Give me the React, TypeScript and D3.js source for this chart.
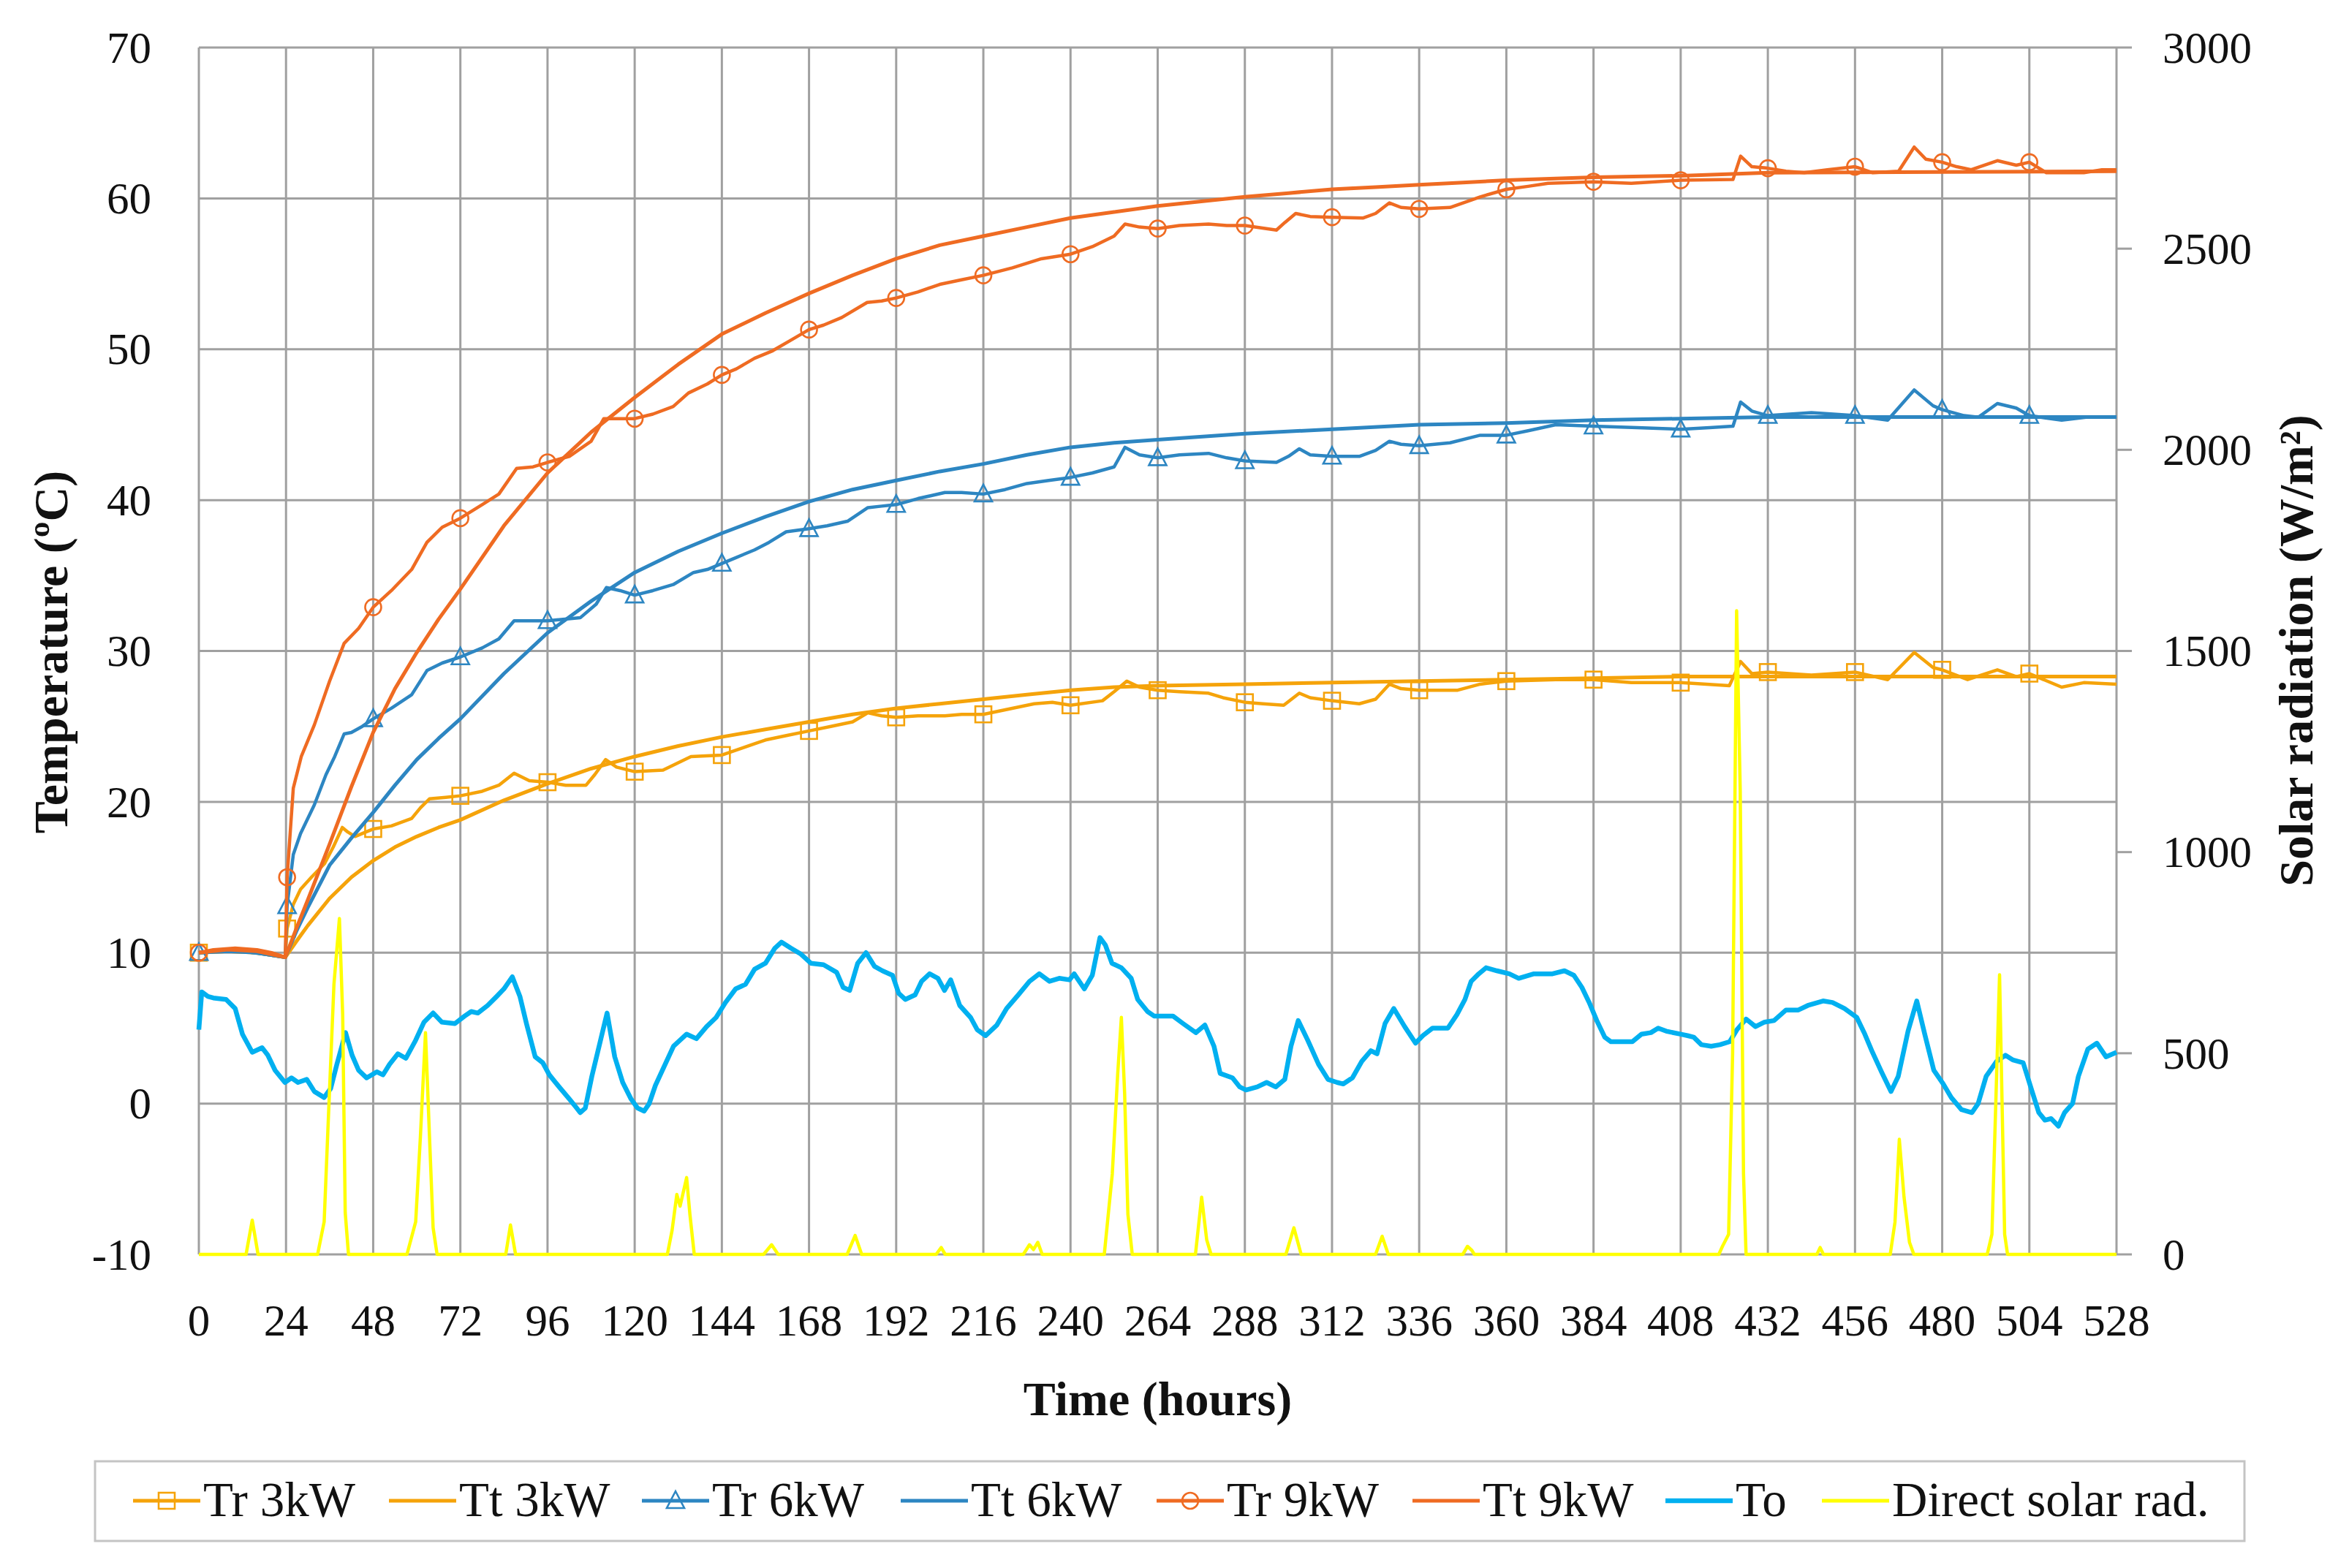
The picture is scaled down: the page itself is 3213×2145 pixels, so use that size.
import * as React from "react";
import * as d3 from "d3";

type Pt = [number, number];

// time axis / value axis ticks
const hourTicks = [0, 24, 48, 72, 96, 120, 144, 168, 192, 216, 240, 264, 288, 312, 336, 360, 384, 408, 432, 456, 480, 504, 528];
const tempTicks = [-10, 0, 10, 20, 30, 40, 50, 60, 70];
const solarTicks = [0, 500, 1000, 1500, 2000, 2500, 3000];

// [hour, ºC]
const tr3kW: Pt[] = [
  [0, 10.0], [6, 10.1], [12, 10.1], [18, 9.9], [23.8, 9.7], [24.3, 11.6], [26, 13.2], [28, 14.2], [31, 15.0], [34.6, 15.9],
  [37, 17.0], [39.5, 18.3], [41, 18.0], [43, 17.7], [46, 18.0], [48, 18.2], [53, 18.4], [58.6, 18.9], [61, 19.6], [63.5, 20.2],
  [68, 20.3], [72, 20.4], [78, 20.7], [82.6, 21.1], [86.8, 21.9], [91, 21.4], [96, 21.3], [101, 21.1], [106.6, 21.1], [109, 21.8],
  [112, 22.8], [115, 22.3], [120, 22.0], [127.8, 22.1], [135.5, 23.0], [144, 23.1], [150, 23.6], [156, 24.1], [162, 24.4], [168, 24.7],
  [174, 25.0], [180, 25.3], [184.2, 25.9], [188, 25.7], [192, 25.6], [198, 25.7], [205.4, 25.7], [210, 25.8], [216, 25.8], [222, 26.1],
  [230, 26.5], [235, 26.6], [240, 26.4], [248.8, 26.7], [252, 27.3], [255.5, 28.0], [259, 27.6], [264, 27.4], [270, 27.3], [278, 27.2],
  [282, 26.9], [288, 26.6], [293, 26.5], [298.7, 26.4], [303, 27.2], [306, 26.9], [312, 26.7], [319.5, 26.5], [324, 26.8], [327.8, 27.8],
  [331, 27.5], [336, 27.4], [346.6, 27.4], [352.8, 27.8], [360, 28.0], [373.6, 28.1], [384, 28.1], [394.4, 27.9], [408, 27.9], [421.4, 27.7],
  [424.5, 29.3], [427.6, 28.5], [432, 28.6], [444, 28.4], [456, 28.6], [465, 28.1], [472.3, 29.9], [477.5, 28.9], [480, 28.75], [487, 28.1],
  [495.2, 28.75], [500.4, 28.3], [504, 28.5], [512.9, 27.6], [519, 27.9], [528, 27.8],
];

const tt3kW: Pt[] = [
  [0, 10.0], [8, 10.1], [16, 10.0], [23.8, 9.7], [27, 10.8], [30, 11.8], [36, 13.6], [42, 15.0], [48, 16.1], [54, 17.0],
  [60, 17.7], [66, 18.3], [72, 18.8], [84, 20.1], [96, 21.2], [108, 22.2], [120, 23.0], [132, 23.7], [144, 24.3], [156, 24.8],
  [168, 25.3], [180, 25.8], [192, 26.2], [204, 26.5], [216, 26.8], [228, 27.1], [240, 27.4], [252, 27.6], [264, 27.7], [288, 27.8],
  [312, 27.9], [336, 28.0], [360, 28.1], [384, 28.2], [408, 28.3], [528, 28.3],
];

const tr6kW: Pt[] = [
  [0, 10.0], [6, 10.1], [12, 10.1], [18, 9.9], [23.8, 9.7], [24.3, 13.1], [26, 16.5], [28, 17.9], [31.8, 19.8], [35, 21.8],
  [37.4, 23.0], [40, 24.5], [42, 24.6], [45, 25.0], [48, 25.5], [53, 26.2], [58.6, 27.1], [62.8, 28.7], [67, 29.2], [72, 29.6],
  [78, 30.2], [82.6, 30.8], [86.8, 32.0], [91, 32.0], [96, 32.0], [105, 32.2], [109.4, 33.1], [112.2, 34.2], [116, 34.0], [120, 33.7],
  [125, 34.0], [130.6, 34.4], [136.2, 35.2], [140, 35.4], [144, 35.8], [148, 36.2], [153, 36.7], [157, 37.2], [161.7, 37.9], [168, 38.1],
  [173, 38.3], [178.6, 38.6], [184.2, 39.5], [188, 39.6], [192, 39.7], [198, 40.1], [205.4, 40.5], [210, 40.5], [216, 40.4], [222, 40.7],
  [228, 41.1], [234, 41.3], [240, 41.5], [246, 41.8], [252, 42.2], [255, 43.5], [259, 43.0], [264, 42.8], [270, 43.0], [278, 43.1],
  [283, 42.8], [288, 42.6], [296.7, 42.5], [300, 42.9], [303, 43.4], [306, 43.0], [312, 42.9], [319.5, 42.9], [324, 43.3], [327.8, 43.9],
  [331, 43.7], [336, 43.6], [344.5, 43.8], [352.8, 44.3], [360, 44.3], [366, 44.6], [373.6, 45.0], [384, 44.9], [396, 44.8], [408, 44.7],
  [416, 44.8], [422.4, 44.9], [424.5, 46.5], [427.6, 45.9], [432, 45.6], [438, 45.7], [444, 45.8], [450, 45.7], [456, 45.6], [465, 45.3],
  [472.3, 47.3], [477.5, 46.25], [480, 46.0], [486, 45.6], [490, 45.5], [495.2, 46.4], [500.4, 46.1], [504, 45.6], [512.9, 45.3], [520, 45.5],
  [528, 45.5],
];

const tt6kW: Pt[] = [
  [0, 10.0], [8, 10.1], [16, 10.0], [23.8, 9.7], [27, 11.5], [30, 13.0], [36, 15.8], [42, 17.6], [48, 19.3], [54, 21.1],
  [60, 22.8], [66, 24.2], [72, 25.5], [84, 28.5], [96, 31.2], [108, 33.3], [120, 35.2], [132, 36.6], [144, 37.8], [156, 38.9],
  [168, 39.9], [180, 40.7], [192, 41.3], [204, 41.9], [216, 42.4], [228, 43.0], [240, 43.5], [252, 43.8], [264, 44.0], [288, 44.4],
  [312, 44.7], [336, 45.0], [360, 45.1], [384, 45.3], [408, 45.4], [432, 45.5], [528, 45.5],
];

const tr9kW: Pt[] = [
  [0, 10.0], [4, 10.2], [10, 10.3], [16, 10.2], [20, 10.0], [23.8, 9.7], [24.3, 15.0], [26, 20.9], [28.2, 23.0], [31.8, 25.1],
  [36, 28.0], [40, 30.5], [44, 31.5], [48, 32.9], [53, 34.0], [58.6, 35.4], [62.8, 37.2], [67, 38.2], [72, 38.8], [78, 39.7],
  [82.6, 40.4], [87.5, 42.1], [92, 42.2], [96, 42.5], [102, 42.9], [108, 43.9], [111.5, 45.4], [116, 45.4], [120, 45.4], [125, 45.7],
  [130.6, 46.2], [134.8, 47.1], [140, 47.7], [144, 48.3], [148, 48.7], [153, 49.4], [158, 49.9], [163, 50.6], [168, 51.3], [172, 51.6],
  [177, 52.1], [184, 53.1], [188, 53.2], [192, 53.4], [198, 53.8], [204, 54.3], [210, 54.6], [216, 54.9], [224, 55.4], [232, 56.0],
  [240, 56.3], [246, 56.8], [252, 57.5], [255, 58.3], [259, 58.1], [264, 58.0], [270, 58.2], [278, 58.3], [283, 58.2], [288, 58.2],
  [296.7, 57.9], [299, 58.4], [302, 59.0], [306, 58.8], [312, 58.75], [320.6, 58.7], [324, 59.0], [327.8, 59.7], [331, 59.4], [336, 59.3],
  [344.5, 59.4], [352.8, 60.1], [360, 60.6], [366, 60.8], [371.5, 61.0], [384, 61.1], [394.4, 61.0], [408, 61.2], [422.4, 61.25], [424.5, 62.8],
  [427.6, 62.1], [432, 62.0], [437, 61.8], [442, 61.7], [448.4, 61.9], [456, 62.1], [460.9, 61.7], [468, 61.8], [472.3, 63.4], [475.5, 62.6],
  [480, 62.4], [484, 62.1], [488, 61.9], [495.2, 62.5], [500.4, 62.2], [504, 62.4], [508.7, 61.7], [519, 61.7], [524, 61.9], [528, 61.9],
];

const tt9kW: Pt[] = [
  [0, 10.0], [8, 10.2], [16, 10.1], [23.8, 9.7], [27, 11.7], [30, 13.5], [36, 17.2], [42, 21.0], [48, 24.6], [54, 27.5],
  [60, 29.9], [66, 32.1], [72, 34.1], [84, 38.3], [96, 41.8], [108, 44.5], [120, 46.8], [132, 49.0], [144, 51.0], [156, 52.4],
  [168, 53.7], [180, 54.9], [192, 56.0], [204, 56.9], [216, 57.5], [228, 58.1], [240, 58.7], [252, 59.1], [264, 59.5], [276, 59.8],
  [288, 60.1], [300, 60.35], [312, 60.6], [324, 60.75], [336, 60.9], [348, 61.05], [360, 61.2], [372, 61.3], [384, 61.4], [408, 61.5],
  [432, 61.7], [480, 61.75], [528, 61.8],
];

// outdoor temperature [hour, ºC]
const outdoor: Pt[] = [
  [0, 4.9], [0.8, 7.4], [2.5, 7.1], [4, 7.0], [7.5, 6.9], [10, 6.3], [12, 4.6], [14.7, 3.4], [17.4, 3.7], [19, 3.2],
  [21, 2.2], [23.7, 1.4], [25.5, 1.7], [27.3, 1.4], [29.7, 1.6], [31.8, 0.8], [34.5, 0.4], [36.3, 1.0], [38, 2.6], [40.4, 4.7],
  [42.2, 3.2], [44, 2.2], [46.2, 1.7], [49, 2.1], [50.7, 1.9], [52.5, 2.6], [54.8, 3.3], [57, 3.0], [59.7, 4.2], [62, 5.4],
  [64.5, 6.0], [66.9, 5.4], [70.5, 5.3], [73.2, 5.8], [75, 6.1], [76.8, 6.0], [79.5, 6.5], [82, 7.1], [84, 7.6], [86.3, 8.4],
  [88.4, 7.1], [90.2, 5.3], [92.6, 3.1], [94.7, 2.7], [96.5, 1.9], [99.2, 1.1], [102, 0.3], [103.7, -0.2], [105, -0.6], [106.4, -0.3],
  [108.2, 1.8], [110.6, 4.2], [112.4, 6.0], [114.5, 3.1], [116.7, 1.4], [119, 0.3], [120.8, -0.3], [122.6, -0.5], [124, 0.0], [125.7, 1.2],
  [128, 2.4], [130.7, 3.8], [134.3, 4.6], [137, 4.3], [139.8, 5.1], [142.4, 5.7], [145, 6.7], [147.8, 7.6], [150.5, 7.9], [153, 8.9],
  [156, 9.3], [158.6, 10.3], [160.4, 10.7], [163, 10.3], [165.8, 9.9], [168.5, 9.3], [172, 9.2], [175.6, 8.7], [177.4, 7.7], [179.2, 7.5],
  [181.4, 9.3], [183.7, 10.0], [186, 9.1], [188.2, 8.8], [191, 8.5], [192.7, 7.3], [194.5, 6.9], [197.2, 7.2], [199, 8.1], [201.2, 8.6],
  [203.5, 8.3], [205.3, 7.5], [207, 8.2], [209.5, 6.5], [212.5, 5.7], [214.3, 4.9], [216.6, 4.5], [219.7, 5.2], [222.4, 6.3], [225.6, 7.2],
  [228.7, 8.1], [231.4, 8.6], [234.2, 8.1], [236.9, 8.3], [239.7, 8.2], [241, 8.6], [243.8, 7.6], [246, 8.5], [248.1, 11.0], [249.6, 10.5],
  [251.4, 9.3], [254, 9.0], [256.7, 8.3], [258.5, 6.9], [261.2, 6.1], [263, 5.8], [268.2, 5.8], [271, 5.3], [274.5, 4.7], [277, 5.2],
  [279.5, 3.8], [281.2, 2.0], [284.6, 1.7], [286.6, 1.1], [288.3, 0.9], [291.4, 1.1], [294, 1.4], [296.5, 1.1], [299, 1.6], [300.7, 3.8],
  [302.7, 5.5], [305.3, 4.2], [308.3, 2.6], [310.9, 1.6], [313.4, 1.4], [315.1, 1.3], [317.6, 1.7], [320.2, 2.8], [322.7, 3.5], [324.4, 3.3],
  [326.6, 5.3], [329, 6.3], [332, 5.1], [335, 4.0], [337, 4.5], [339.7, 5.0], [343.9, 5.0], [346.4, 5.9], [348.6, 6.9], [350.3, 8.1],
  [352.4, 8.6], [354.4, 9.0], [357.4, 8.8], [360.8, 8.6], [363.4, 8.3], [367.6, 8.6], [372.7, 8.6], [376, 8.8], [378.6, 8.5], [380.8, 7.7],
  [382.8, 6.7], [384.9, 5.5], [387.1, 4.4], [388.8, 4.1], [394.7, 4.1], [397.2, 4.6], [399.8, 4.7], [401.8, 5.0], [404, 4.8], [407.9, 4.6],
  [409.9, 4.5], [411.6, 4.4], [413.7, 3.9], [416.4, 3.8], [418.8, 3.9], [421.5, 4.1], [423.5, 4.9], [426, 5.6], [428.6, 5.1], [431.1, 5.4],
  [433.7, 5.5], [437, 6.2], [440.4, 6.2], [443, 6.5], [447.2, 6.8], [449.8, 6.7], [453.1, 6.3], [456.5, 5.7], [458.7, 4.6], [460.8, 3.4],
  [463.3, 2.1], [465.9, 0.8], [467.9, 1.8], [470.6, 4.8], [473, 6.8], [475.2, 4.6], [477.7, 2.2], [480.3, 1.3], [482.5, 0.4], [485.3, -0.4],
  [488.2, -0.6], [489.9, 0.0], [492.1, 1.8], [495, 2.8], [497.4, 3.2], [499.4, 2.9], [502.3, 2.7], [504.5, 1.0], [506.6, -0.6], [508.3, -1.1],
  [510, -1.0], [512, -1.5], [513.7, -0.6], [515.9, 0.0], [517.5, 1.8], [520.1, 3.6], [522.6, 4.0], [525.1, 3.1], [528, 3.4],
];

// direct solar radiation [hour, W/m2]
const solar: Pt[] = [
  [0, 0], [13, 0], [14.7, 85], [16.3, 0], [32.7, 0], [34.5, 81], [35.8, 369], [37.2, 672], [38.7, 835], [39.6, 596],
  [40.3, 104], [41.2, 0], [57.3, 0], [59.7, 81], [61, 293], [62.4, 551], [63.5, 293], [64.5, 66], [65.6, 0], [84.5, 0],
  [85.8, 73], [87.2, 0], [129, 0], [130.3, 60], [131.6, 149], [132.5, 120], [134.3, 191], [135.2, 100], [136.4, 0], [155.5, 0],
  [157.7, 24], [159.5, 0], [178.5, 0], [180.7, 47], [182.5, 0], [203, 0], [204.4, 17], [205.5, 0], [227, 0], [228.7, 24],
  [229.8, 12], [231, 30], [232.2, 0], [249.3, 0], [251.5, 200], [253, 450], [254, 589], [254.9, 400], [255.8, 100], [257, 0],
  [274.4, 0], [276.1, 142], [277.5, 36], [278.7, 0], [299.3, 0], [301.5, 66], [303.5, 0], [324, 0], [325.8, 45], [327.5, 0],
  [348, 0], [349.3, 20], [350.5, 10], [351.2, 0], [418.5, 0], [419.5, 20], [421.2, 50], [422.3, 500], [423.4, 1600], [424.4, 1150],
  [425.3, 200], [426, 0], [445.5, 0], [446.4, 17], [447.3, 0], [465.7, 0], [467, 80], [468.2, 286], [469.5, 142], [471, 30],
  [472.2, 0], [492.4, 0], [493.7, 50], [495.8, 695], [497.2, 50], [498, 0], [528, 0],
];

const seriesNames = ["Tr 3kW", "Tt 3kW", "Tr 6kW", "Tt 6kW", "Tr 9kW", "Tt 9kW", "To", "Direct solar rad."];

const W = 3213;
const H = 2145;
const FONT = "'Liberation Serif', 'Times New Roman', serif";

const C3 = "#F5A30A";
const C6 = "#2D86C2";
const C9 = "#EF6B22";
const CTO = "#00B0F0";
const CSUN = "#FFFF00";
const GRID = "#a0a0a0";

type Marker = "square" | "triangle" | "circle" | null;

const x = d3.scaleLinear().domain([0, 528]).range([272, 2895]);
const yT = d3.scaleLinear().domain([-10, 70]).range([1716, 65]);
const yS = d3.scaleLinear().domain([0, 3000]).range([1716, 65]);

const tLine = d3
  .line<Pt>()
  .x(d => x(d[0]))
  .y(d => yT(d[1]));
const sLine = d3
  .line<Pt>()
  .x(d => x(d[0]))
  .y(d => yS(d[1]));

const drawMarker = (m: Marker, cx: number, cy: number, color: string, key: string) => {
  const sw = 2.6;
  if (m === "square")
    return <rect key={key} x={cx - 11} y={cy - 11} width={22} height={22} fill="none" stroke={color} strokeWidth={sw} />;
  if (m === "triangle")
    return (
      <path
        key={key}
        d={`M${cx},${cy - 13} L${cx + 12},${cy + 10} L${cx - 12},${cy + 10} Z`}
        fill="none"
        stroke={color}
        strokeWidth={sw}
      />
    );
  if (m === "circle") return <circle key={key} cx={cx} cy={cy} r={11} fill="none" stroke={color} strokeWidth={sw} />;
  return null;
};

// marker at the first sample of every 24 h block
const markerPoints = (data: Pt[]) => {
  const out: Pt[] = [];
  for (let k = 0; k * 24 < 528; k++) {
    const p = data.find(d => d[0] >= k * 24);
    if (p) out.push(p);
  }
  return out;
};

const App: React.FunctionComponent = () => {
  const series = [
    { name: seriesNames[0], data: tr3kW, color: C3, width: 4.5, marker: "square" as Marker },
    { name: seriesNames[1], data: tt3kW, color: C3, width: 5, marker: null as Marker },
    { name: seriesNames[2], data: tr6kW, color: C6, width: 4.5, marker: "triangle" as Marker },
    { name: seriesNames[3], data: tt6kW, color: C6, width: 5, marker: null as Marker },
    { name: seriesNames[4], data: tr9kW, color: C9, width: 4.5, marker: "circle" as Marker },
    { name: seriesNames[5], data: tt9kW, color: C9, width: 5, marker: null as Marker },
    { name: seriesNames[6], data: outdoor, color: CTO, width: 6.5, marker: null as Marker },
  ];
  const legendX = [182, 532, 878, 1232, 1582, 1932, 2278, 2492];
  const legendColors = [C3, C3, C6, C6, C9, C9, CTO, CSUN];
  const legendMarkers: Marker[] = ["square", null, "triangle", null, "circle", null, null, null];
  const legendY = 2053;

  return (
    <svg
      width={W}
      height={H}
      viewBox={`0 0 ${W} ${H}`}
      style={{ position: "absolute", left: 0, top: 0, background: "#fff" }}
      fontFamily={FONT}
    >
      <rect width={W} height={H} fill="#fff" />

      {/* grid */}
      <g stroke={GRID} strokeWidth={3}>
        {tempTicks.map(t => (
          <line key={"h" + t} x1={x(0)} x2={x(528)} y1={yT(t)} y2={yT(t)} />
        ))}
        {hourTicks.map(h => (
          <line key={"v" + h} x1={x(h)} x2={x(h)} y1={yT(70)} y2={yT(-10)} />
        ))}
        {solarTicks.map(s => (
          <line key={"s" + s} x1={x(528)} x2={x(528) + 21} y1={yS(s)} y2={yS(s)} />
        ))}
      </g>

      {/* left axis labels */}
      <g fontSize={61} textAnchor="end" fill="#111">
        {tempTicks.map(t => (
          <text key={t} x={207} y={yT(t)} dy="0.34em">
            {t}
          </text>
        ))}
      </g>
      {/* right axis labels */}
      <g fontSize={61} textAnchor="start" fill="#111">
        {solarTicks.map(s => (
          <text key={s} x={2958} y={yS(s)} dy="0.34em">
            {s}
          </text>
        ))}
      </g>
      {/* bottom labels */}
      <g fontSize={61} textAnchor="middle" fill="#111">
        {hourTicks.map(h => (
          <text key={h} x={x(h)} y={1827}>
            {h}
          </text>
        ))}
      </g>

      {/* titles */}
      <text x={(x(0) + x(528)) / 2} y={1936} fontSize={66} fontWeight="bold" textAnchor="middle" fill="#111">
        Time (hours)
      </text>
      <text
        transform={`translate(92,892) rotate(-90)`}
        fontSize={66}
        fontWeight="bold"
        textAnchor="middle"
        fill="#111"
      >
        Temperature (ºC)
      </text>
      <text
        transform={`translate(3163,890) rotate(-90)`}
        fontSize={66}
        fontWeight="bold"
        textAnchor="middle"
        fill="#111"
      >
        Solar radiation (W/m²)
      </text>

      {/* series */}
      {series.map(s => (
        <g key={s.name}>
          <path d={tLine(s.data) || ""} fill="none" stroke={s.color} strokeWidth={s.width} strokeLinejoin="round" />
          {s.marker &&
            markerPoints(s.data).map((p, i) => drawMarker(s.marker, x(p[0]), yT(p[1]), s.color, s.name + i))}
        </g>
      ))}
      <path d={sLine(solar) || ""} fill="none" stroke={CSUN} strokeWidth={4.5} strokeLinejoin="round" />

      {/* legend */}
      <rect x={130} y={1999} width={2940} height={109} fill="#fff" stroke="#c4c4c4" strokeWidth={3} />
      {seriesNames.map((n, i) => (
        <g key={n}>
          <line
            x1={legendX[i]}
            x2={legendX[i] + 92}
            y1={legendY}
            y2={legendY}
            stroke={legendColors[i]}
            strokeWidth={i === 6 ? 6.5 : 5}
          />
          {drawMarker(legendMarkers[i], legendX[i] + 46, legendY, legendColors[i], "lm" + i)}
          <text x={legendX[i] + 96} y={2074} fontSize={67} fill="#111">
            {n}
          </text>
        </g>
      ))}
    </svg>
  );
};

export default App;
